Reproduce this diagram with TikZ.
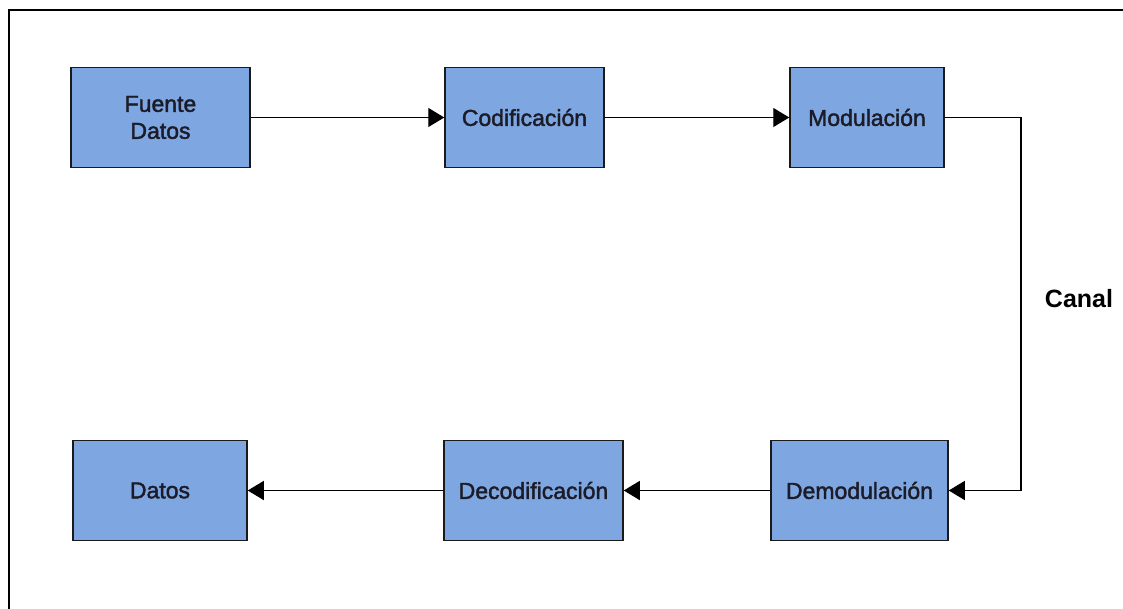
\documentclass[tikz,border=0pt]{standalone}
\usepackage{fontspec}
\setmainfont{Liberation Sans}
\newfontfamily\blockfont[FakeBold=1.8]{Liberation Sans}
\usetikzlibrary{arrows.meta}
\definecolor{boxblue}{HTML}{7EA6E0}
\definecolor{boxedge}{HTML}{1A1A1A}
\definecolor{boxtext}{HTML}{1C1C28}
\tikzset{
  block/.style={draw=boxedge, fill=boxblue, line width=1.5pt, inner sep=0pt,
    minimum height=100pt, align=center, text=boxtext,
    font=\blockfont\fontsize{23}{27}\selectfont},
  link/.style={line width=1.3pt, -{Triangle[length=16pt, width=19pt]}},
}
\begin{document}
\begin{tikzpicture}[x=1pt, y=-1pt]
  \useasboundingbox (0,0) rectangle (1123,609);
  % outer frame, running past the right and lower edges
  \begin{scope}
    \clip (0,0) rectangle (1123,609);
    \draw[line width=1.8pt] (9,10) rectangle (1140,640);
  \end{scope}

  % transmitter chain
  \node[block, minimum width=179pt] (fuente) at (160.5,117.5) {Fuente\\Datos};
  \node[block, minimum width=159pt] (cod) at (524.5,117.5) {Codificación};
  \node[block, minimum width=154pt] (mod) at (867,117.5) {Modulación};

  % receiver chain
  \node[block, minimum width=177pt] (demod) at (859.5,490.5) {Demodulación};
  \node[block, minimum width=179pt] (decod) at (533.5,490.5) {Decodificación};
  \node[block, minimum width=174pt] (datos) at (160,490.5) {Datos};

  % channel
  \coordinate (ch) at (1021,300);
  \node[anchor=base, font=\bfseries\fontsize{25}{30}\selectfont] (canal) at (1079,308) {Canal};

  \draw[link] (fuente.east) -- (cod.west);
  \draw[link] (cod.east) -- (mod.west);
  \draw[link] (mod.east) -| (ch) |- (demod.east);
  \draw[link] (demod.west) -- (decod.east);
  \draw[link] (decod.west) -- (datos.east);
\end{tikzpicture}
\end{document}
